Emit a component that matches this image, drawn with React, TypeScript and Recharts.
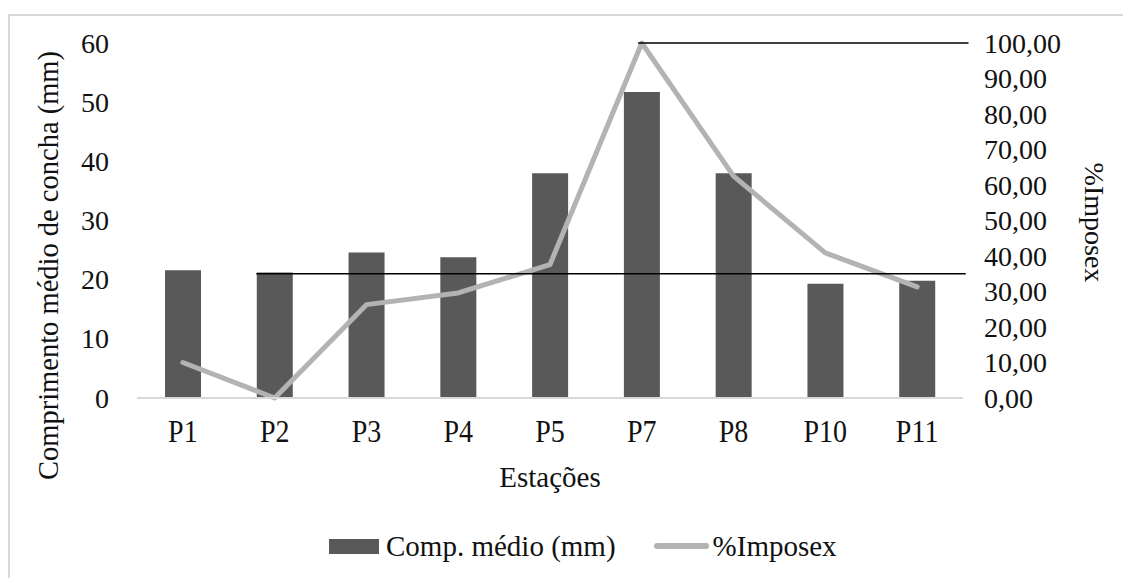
import React from 'react';
import { ComposedChart, Bar, Line, XAxis, YAxis, ReferenceLine, Legend } from 'recharts';

const stations = ['P1', 'P2', 'P3', 'P4', 'P5', 'P7', 'P8', 'P10', 'P11'];
const shellLength = [21.6, 21.2, 24.6, 23.8, 38.0, 51.7, 38.0, 19.3, 19.8];
const imposex = [10.0, 0.0, 26.3, 29.6, 37.6, 100.0, 62.5, 40.9, 31.3];
const leftTicks = [0, 10, 20, 30, 40, 50, 60];
const rightTicks = [0, 10, 20, 30, 40, 50, 60, 70, 80, 90, 100];
const lengthRef = 21.0;
const lengthRefSpan = [1.3, 9.03];
const imposexRef = 100;
const imposexRefSpan = [5.46, 9.06];

const data = stations.map((s, i) => ({ station: s, pos: i + 0.5, comp: shellLength[i], imp: imposex[i] }));

const FONT = '"Liberation Serif", "Times New Roman", serif';
const FS = 28;
const SY = 1.1;
const TXT = '#111';

const fmtRight = (v: number) => v.toFixed(2).replace('.', ',');

const XTick = (props: any) => {
  const { x, y, payload } = props;
  return (
    <g transform={`translate(${x},${y + 44})`}>
      <text x={0} y={0} transform={`scale(1,${SY})`} textAnchor="middle" fontFamily={FONT} fontSize={FS} fill={TXT}>
        {payload.value}
      </text>
    </g>
  );
};

const LeftTick = (props: any) => {
  const { x, y, payload } = props;
  return (
    <text x={x} y={y} textAnchor="end" dominantBaseline="central" fontFamily={FONT} fontSize={FS} fill={TXT}>
      {payload.value}
    </text>
  );
};

const RightTick = (props: any) => {
  const { x, y, payload } = props;
  return (
    <text x={x} y={y} textAnchor="start" dominantBaseline="central" fontFamily={FONT} fontSize={FS} fill={TXT}>
      {fmtRight(payload.value)}
    </text>
  );
};

const LeftLabel = (props: any) => {
  const vb = props.viewBox || {};
  const x = vb.x + 38;
  const y = vb.y + vb.height / 2 + 45;
  return (
    <text x={x} y={y} transform={`rotate(-90, ${x}, ${y})`} textAnchor="middle" dominantBaseline="central"
      fontFamily={FONT} fontSize={28.5} fill={TXT}>
      Comprimento médio de concha (mm)
    </text>
  );
};

const RightLabel = (props: any) => {
  const vb = props.viewBox || {};
  const x = vb.x + 131;
  const y = vb.y + vb.height / 2 + 2;
  return (
    <text x={x} y={y} transform={`rotate(90, ${x}, ${y})`} textAnchor="middle" dominantBaseline="central"
      fontFamily={FONT} fontSize={FS} fill={TXT}>
      %Imposex
    </text>
  );
};

const BottomLabel = (props: any) => {
  const vb = props.viewBox || {};
  const x = vb.x + vb.width / 2;
  const y = vb.y + 89;
  return (
    <text x={x} y={y} textAnchor="middle" fontFamily={FONT} fontSize={29} fill={TXT}>
      Estações
    </text>
  );
};

const LegendContent = (props: any) => {
  const payload = [...(props.payload || [])].sort((a: any, b: any) => (a.type === 'rect' ? -1 : 1) - (b.type === 'rect' ? -1 : 1));
  return (
    <div style={{ display: 'flex', alignItems: 'center', paddingLeft: 319, height: 30, fontFamily: FONT, fontSize: 29, color: TXT }}>
      {payload.map((p: any, i: number) => (
        <div key={i} style={{ display: 'flex', alignItems: 'center', marginRight: 38 }}>
          {p.type === 'rect' ? (
            <div style={{ width: 50, height: 15, background: p.color, marginRight: 7 }} />
          ) : (
            <div style={{ width: 55, height: 6, background: p.color, borderRadius: 3, marginRight: 4 }} />
          )}
          <span style={{ whiteSpace: 'nowrap', lineHeight: '30px' }}>{p.value}</span>
        </div>
      ))}
    </div>
  );
};

export default function App() {
  return (
    <div style={{ width: 1123, height: 570, overflow: 'hidden', paddingTop: 6, boxSizing: 'border-box' }}>
      <div style={{ borderTop: '2px solid #d9d9d9', borderLeft: '2px solid #d9d9d9', width: 1200, height: 600 }}>
        <ComposedChart width={1121} height={562} data={data} margin={{ top: 27, right: 8, left: 0, bottom: 90 }}>
          <XAxis dataKey="station" height={60} tickSize={0} tickMargin={0}
            axisLine={{ stroke: '#d9d9d9', strokeWidth: 2 }} tickLine={false}
            tick={<XTick />} label={<BottomLabel />} interval={0} />
          <XAxis xAxisId="n" dataKey="pos" type="number" domain={[0, 9]} allowDataOverflow hide height={0} />
          <YAxis yAxisId="left" width={127} domain={[0, 60]} ticks={leftTicks} interval={0}
            axisLine={false} tickLine={false} tickSize={0} tickMargin={28}
            tick={<LeftTick />} label={<LeftLabel />} />
          <YAxis yAxisId="right" orientation="right" width={160} domain={[0, 100]} ticks={rightTicks} interval={0}
            axisLine={false} tickLine={false} tickSize={0} tickMargin={21}
            tick={<RightTick />} label={<RightLabel />} />
          <Bar yAxisId="left" dataKey="comp" name="Comp. médio (mm)" fill="#595959" barSize={36} isAnimationActive={false} legendType="rect" />
          <Line yAxisId="right" dataKey="imp" name="%Imposex" stroke="#b3b3b3" strokeWidth={5} dot={false}
            strokeLinejoin="round" strokeLinecap="round" isAnimationActive={false} legendType="line" />
          <ReferenceLine xAxisId="n" yAxisId="left" ifOverflow="visible" stroke="#000" strokeWidth={1.3}
            segment={[{ x: lengthRefSpan[0], y: lengthRef }, { x: lengthRefSpan[1], y: lengthRef }]} />
          <ReferenceLine xAxisId="n" yAxisId="right" ifOverflow="visible" stroke="#000" strokeWidth={1.3}
            segment={[{ x: imposexRefSpan[0], y: imposexRef }, { x: imposexRefSpan[1], y: imposexRef }]} />
          <Legend content={<LegendContent />} wrapperStyle={{ position: 'absolute', top: 515, left: 0, width: 1121 }} />
        </ComposedChart>
      </div>
    </div>
  );
}
